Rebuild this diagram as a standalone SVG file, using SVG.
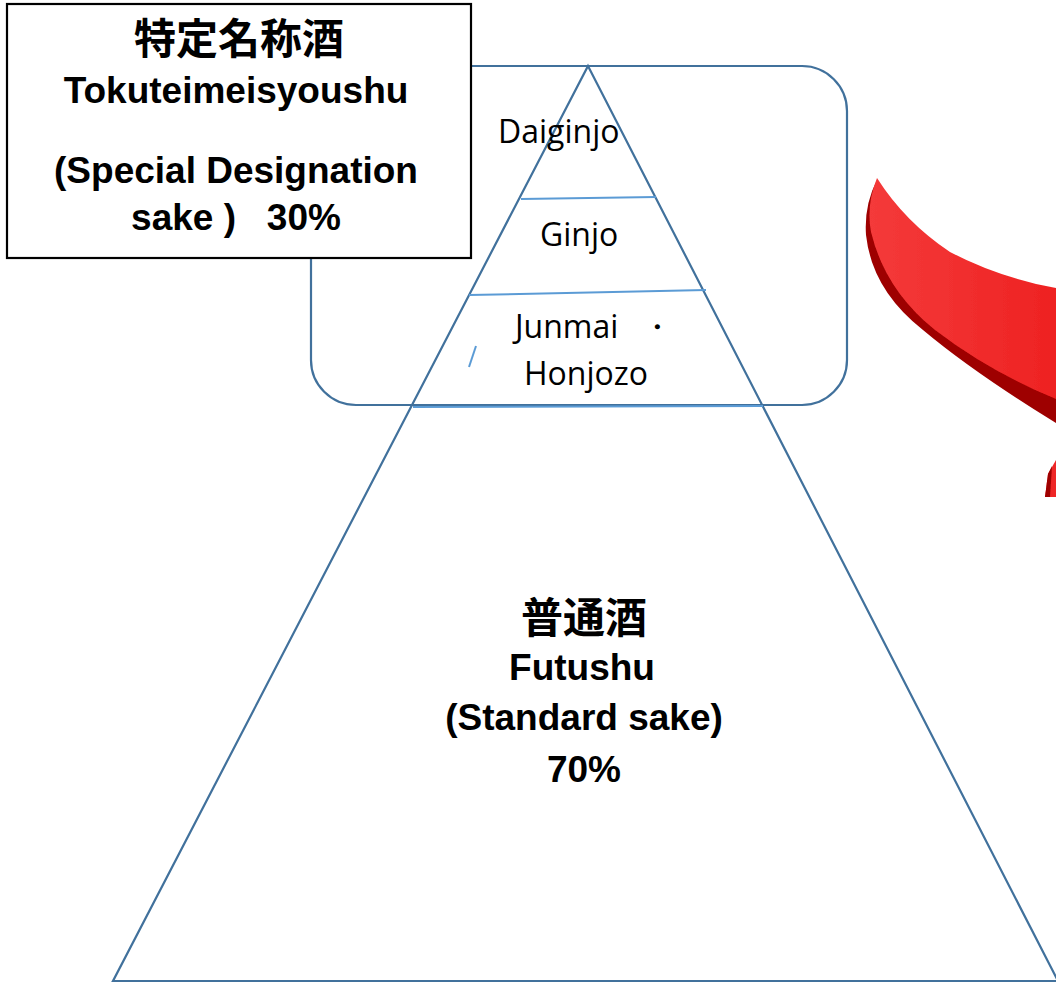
<svg xmlns="http://www.w3.org/2000/svg" width="1056" height="983" viewBox="0 0 1056 983">
  <style>
    .outline { fill: none; stroke: #41719C; stroke-width: 2.2; }
    .divider { fill: none; stroke: #5B9BD5; stroke-width: 2; }
    .bold { font-family: "Liberation Sans", "Noto Sans CJK JP", sans-serif; font-weight: bold; font-size: 37px; fill: #000; text-anchor: middle; }
    .cjk { font-family: "Noto Sans CJK JP", sans-serif; font-weight: bold; font-size: 42px; fill: #000; text-anchor: middle; }
    .tier { font-family: "Open Sans", "Noto Sans", sans-serif; font-size: 32px; fill: #000; }
  </style>
  <defs>
    <linearGradient id="ribbonFace" x1="0" y1="0" x2="1" y2="0">
      <stop offset="0" stop-color="#F43A3A"/>
      <stop offset="1" stop-color="#EE2222"/>
    </linearGradient>
    <filter id="soft" x="-5%" y="-5%" width="110%" height="110%">
      <feGaussianBlur stdDeviation="0.7"/>
    </filter>
  </defs>

  <rect width="1056" height="983" fill="#FFFFFF"/>

  <!-- red curved ribbon arrow, cut at the right edge -->
  <g id="ribbon" filter="url(#soft)">
    <path d="M 877 180 Q 864 205 866 235 Q 872 290 923 330 Q 973 372 1056 423 L 1056 393 Q 990 366 935 326 Q 885 286 872 228 Q 870 200 877 180 Z" fill="#9E0000"/>
    <path d="M 877 178 Q 905 222 950 252 Q 1000 278 1056 288 L 1056 399 Q 990 372 935 330 Q 885 290 871 232 Q 866 205 877 178 Z" fill="url(#ribbonFace)"/>
    <path d="M 1045 497 L 1048 474 L 1056 460 L 1056 497 Z" fill="#EE2626"/>
    <path d="M 1045 497 L 1048 474 L 1052 466 L 1050 497 Z" fill="#9E0000"/>
  </g>

  <!-- special designation bracket box -->
  <g id="special-group">
    <rect class="outline" x="311" y="66" width="536" height="339" rx="45" ry="45"/>
  </g>

  <!-- pyramid -->
  <g id="pyramid">
    <path class="outline" d="M 588 66 L 1058 981 L 113 981 Z"/>
  </g>

  <g id="connectors">
    <line class="divider" x1="521" y1="199" x2="656" y2="197"/>
    <line class="divider" x1="469" y1="295" x2="706" y2="290"/>
    <line class="divider" x1="413" y1="407" x2="763" y2="406"/>
    <line class="divider" x1="476" y1="346" x2="469" y2="367"/>
  </g>

  <!-- tiers inside the pyramid -->
  <g id="daiginjo">
    <text class="tier" x="498" y="143">Daiginjo</text>
  </g>
  <g id="ginjo">
    <text class="tier" x="540" y="246">Ginjo</text>
  </g>
  <g id="junmai-honjozo">
    <text class="tier" x="515" y="338">Junmai</text>
    <text class="tier" x="657" y="338" text-anchor="middle">・</text>
    <text class="tier" x="524" y="385">Honjozo</text>
  </g>

  <!-- standard sake base -->
  <g id="futsushu">
    <text class="cjk" x="584" y="633">普通酒</text>
    <text class="bold" x="582" y="680">Futushu</text>
    <text class="bold" x="584" y="730">(Standard sake)</text>
    <text class="bold" x="584" y="782">70%</text>
  </g>

  <!-- label box for special designation sake -->
  <g id="tokutei-label">
    <rect x="7" y="4" width="464" height="254" fill="#FFFFFF" stroke="#000000" stroke-width="2.2"/>
    <text class="cjk" x="239" y="54">特定名称酒</text>
    <text class="bold" x="236" y="103">Tokuteimeisyoushu</text>
    <text class="bold" x="236" y="183">(Special Designation</text>
    <text class="bold" x="236" y="230" xml:space="preserve">sake )   30%</text>
  </g>
</svg>
